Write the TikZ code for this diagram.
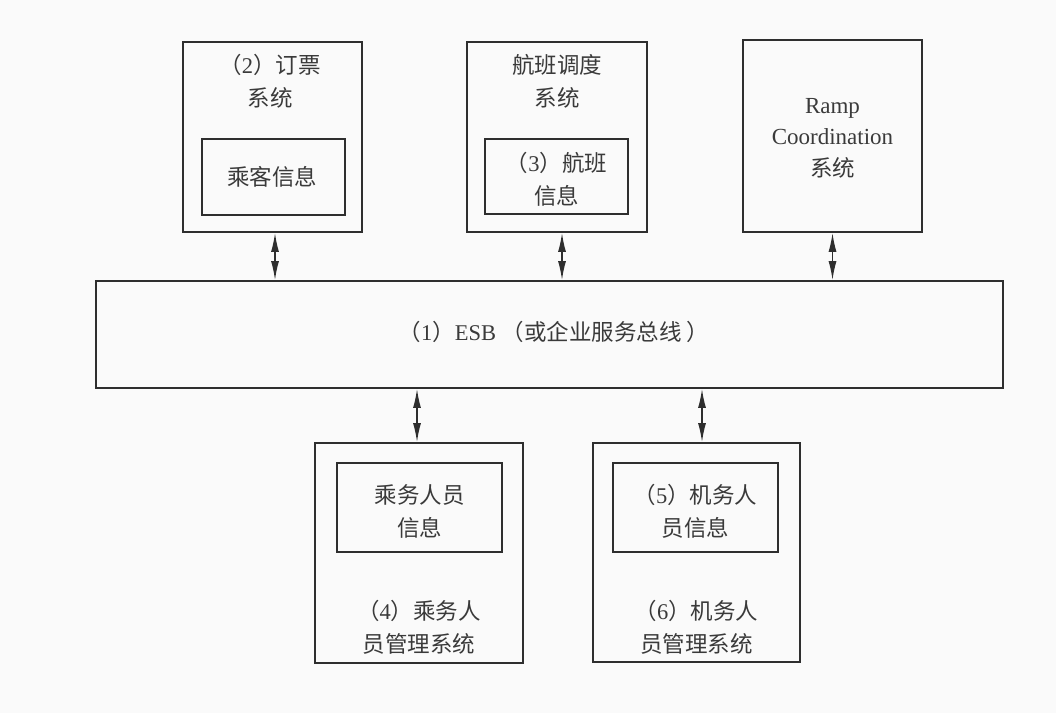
\documentclass[tikz,border=0pt]{standalone}
\usepackage{fontspec}
\setmainfont{Liberation Serif}
\newfontfamily\cjk{Noto Sans CJK SC}
\usetikzlibrary{arrows.meta,calc}
\definecolor{ink}{HTML}{2E2E2E}
\definecolor{txt}{HTML}{3A3A3A}
\definecolor{bg}{HTML}{FAFAFA}
\newcommand{\zh}[1]{{\cjk #1}}
\begin{document}
\begin{tikzpicture}[x=1pt,y=-1pt,
  box/.style={draw=ink,line width=1.8pt,rectangle,inner sep=0pt},
  lbl/.style={text=txt,inner sep=0pt,align=center,font=\fontsize{22.5}{33}\selectfont},
  latin/.style={text=txt,inner sep=0pt,align=center,font=\fontsize{23}{31}\selectfont},
  link/.style={draw=ink,line width=1.4pt,{Latex[length=19pt,width=8pt]}-{Latex[length=19pt,width=8pt]}}]
\fill[bg] (0,0) rectangle (1056,713);
\useasboundingbox (0,0) rectangle (1056,713);

% bus
\node[box,minimum width=907pt,minimum height=107pt] (bus) at (549.5,334.5) {};
\node[lbl] (busl) at (554,332) {\zh{（}1\zh{）}ESB \zh{（或企业服务总线 ）}};

% booking system
\node[box,minimum width=179pt,minimum height=190pt] (sys2) at (272.5,137) {};
\node[box,minimum width=143pt,minimum height=76pt] (pax) at (273.5,177) {};
\node[lbl] (sys2l) at (270,81.5) {\zh{（}2\zh{）订票}\\\zh{系统}};
\node[lbl] (paxl) at (272,177) {\zh{乘客信息}};

% flight scheduling
\node[box,minimum width=180pt,minimum height=190pt] (sched) at (557,137) {};
\node[box,minimum width=143pt,minimum height=75pt] (flt) at (556.5,176.5) {};
\node[lbl] (schedl) at (557,81.5) {\zh{航班调度}\\\zh{系统}};
\node[lbl] (fltl) at (556.5,179) {\zh{（}3\zh{）航班}\\\zh{信息}};

% ramp
\node[box,minimum width=179pt,minimum height=192pt] (ramp) at (832.5,136) {};
\node[latin] (rampl) at (832.5,138) {Ramp\\Coordination\\[1pt]\fontsize{22.5}{31}\selectfont\zh{系统}};

% crew management
\node[box,minimum width=208pt,minimum height=220pt] (crew) at (419,553) {};
\node[box,minimum width=165pt,minimum height=89pt] (crewi) at (419.5,507.5) {};
\node[lbl] (crewil) at (419.5,511) {\zh{乘务人员}\\\zh{信息}};
\node[lbl] (crewl) at (419,627) {\zh{（}4\zh{）乘务人}\\\zh{员管理系统}};

% pilot management
\node[box,minimum width=207pt,minimum height=219pt] (pilot) at (696.5,552.5) {};
\node[box,minimum width=165pt,minimum height=89pt] (piloti) at (695.5,507.5) {};
\node[lbl] (pilotil) at (695.5,511) {\zh{（}5\zh{）机务人}\\\zh{员信息}};
\node[lbl] (pilotl) at (696.5,627) {\zh{（}6\zh{）机务人}\\\zh{员管理系统}};

% links
\draw[link] ([xshift=2.5pt]sys2.south) -- ([xshift=2.5pt]sys2.south |- bus.north);
\draw[link] ([xshift=5pt]sched.south) -- ([xshift=5pt]sched.south |- bus.north);
\draw[link] (ramp.south) -- (ramp.south |- bus.north);
\draw[link] ([xshift=-2pt]crew.north) -- ([xshift=-2pt]crew.north |- bus.south);
\draw[link] ([xshift=5.5pt]pilot.north) -- ([xshift=5.5pt]pilot.north |- bus.south);
\end{tikzpicture}
\end{document}
